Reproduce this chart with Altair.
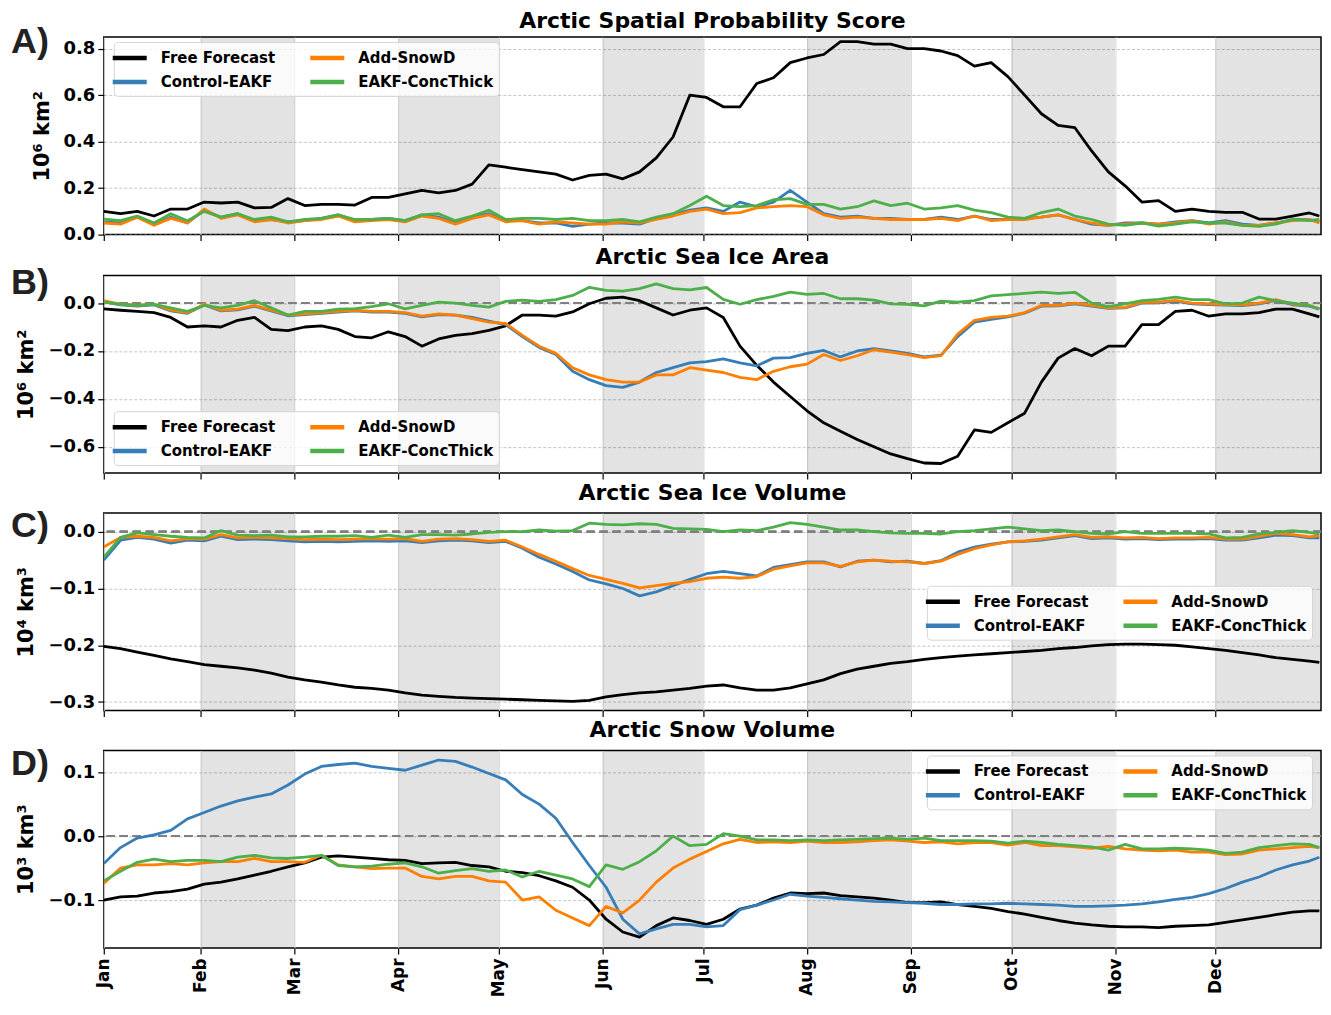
import altair as alt
import pandas as pd

# ---------------- data ----------------
DAYS = [3, 8, 13, 18, 23, 28, 33, 38, 43, 48, 53, 58, 63, 68, 73, 78, 83, 88, 93, 98,
        103, 108, 113, 118, 123, 128, 133, 138, 143, 148, 153, 158, 163, 168, 173, 178,
        183, 188, 193, 198, 203, 208, 213, 218, 223, 228, 233, 238, 243, 248, 253, 258,
        263, 268, 273, 278, 283, 288, 293, 298, 303, 308, 313, 318, 323, 328, 333, 338,
        343, 348, 353, 358, 363, 366]

MONTH_TICKS = [3, 32, 60, 91, 121, 152, 182, 213, 244, 274, 305, 335]
MONTH_LABELS = ["Jan", "Feb", "Mar", "Apr", "May", "Jun", "Jul", "Aug", "Sep", "Oct", "Nov", "Dec"]
SHADE_START = [32, 91, 152, 213, 274, 335]
SHADE_END = [60, 121, 182, 244, 305, 366.5]
X_DOMAIN = [3, 366.5]

# legend order (filled column by column: col 1 = first two, col 2 = last two)
SERIES = ["Free Forecast", "Control-EAKF", "Add-SnowD", "EAKF-ConcThick"]
COLORS = ["#000000", "#377eb8", "#ff7f00", "#4daf4a"]
DRAW_ORDER = ["Free Forecast", "Control-EAKF", "Add-SnowD", "EAKF-ConcThick"]

# Panel A: Arctic Spatial Probability Score
A_FREE = [0.10, 0.09, 0.10, 0.08, 0.11, 0.11, 0.14, 0.136, 0.14, 0.115, 0.117, 0.155, 0.125, 0.13,
          0.13, 0.127, 0.16, 0.16, 0.175, 0.19, 0.18, 0.19, 0.217, 0.30, 0.29, 0.28, 0.27, 0.26,
          0.235, 0.255, 0.26,
          0.24, 0.27, 0.33, 0.42, 0.60, 0.59, 0.55, 0.55, 0.65, 0.675, 0.74, 0.76, 0.775, 0.83,
          0.83, 0.82, 0.82, 0.80, 0.80, 0.79, 0.77, 0.725, 0.74, 0.68, 0.60, 0.52, 0.47, 0.46,
          0.36, 0.27, 0.21, 0.14, 0.146, 0.10, 0.11, 0.10, 0.096, 0.096, 0.067, 0.067, 0.08,
          0.093, 0.08]
A_CTRL = [0.055, 0.05, 0.075, 0.045, 0.075, 0.05, 0.105, 0.075, 0.09, 0.06, 0.065, 0.055, 0.06,
          0.07, 0.085, 0.06, 0.065, 0.07, 0.06, 0.085, 0.075, 0.05, 0.075, 0.09, 0.06, 0.06, 0.05,
          0.05, 0.035, 0.045, 0.05,
          0.05, 0.045, 0.07, 0.085, 0.105, 0.115, 0.10, 0.14, 0.12, 0.14, 0.19, 0.14, 0.09, 0.075,
          0.08, 0.07, 0.07, 0.065, 0.065, 0.075, 0.065, 0.08, 0.065, 0.065, 0.07, 0.075, 0.085,
          0.065, 0.045, 0.04, 0.05, 0.05, 0.045, 0.055, 0.06, 0.05, 0.06, 0.045, 0.04, 0.05,
          0.065, 0.065, 0.055]
A_SNOW = [0.05, 0.045, 0.075, 0.04, 0.07, 0.05, 0.11, 0.07, 0.085, 0.055, 0.065, 0.05, 0.06,
          0.065, 0.08, 0.055, 0.06, 0.065, 0.055, 0.08, 0.07, 0.045, 0.07, 0.085, 0.055, 0.06,
          0.045, 0.055, 0.05, 0.045, 0.045,
          0.055, 0.05, 0.065, 0.08, 0.10, 0.11, 0.09, 0.095, 0.115, 0.12, 0.125, 0.12, 0.085,
          0.07, 0.075, 0.07, 0.065, 0.065, 0.065, 0.07, 0.06, 0.08, 0.06, 0.065, 0.065, 0.075,
          0.085, 0.065, 0.05, 0.04, 0.045, 0.05, 0.045, 0.05, 0.06, 0.045, 0.055, 0.04, 0.04,
          0.05, 0.06, 0.065, 0.05]
A_CONC = [0.067, 0.06, 0.08, 0.05, 0.09, 0.06, 0.10, 0.075, 0.09, 0.065, 0.075, 0.055, 0.065,
          0.07, 0.085, 0.065, 0.065, 0.07, 0.06, 0.085, 0.09, 0.06, 0.08, 0.105, 0.065, 0.07,
          0.07, 0.065, 0.07, 0.06, 0.06,
          0.065, 0.055, 0.075, 0.09, 0.125, 0.165, 0.125, 0.12, 0.125, 0.15, 0.155, 0.13, 0.13,
          0.11, 0.12, 0.145, 0.125, 0.135, 0.11, 0.115, 0.125, 0.105, 0.095, 0.075, 0.07, 0.095,
          0.11, 0.08, 0.065, 0.045, 0.04, 0.05, 0.037, 0.045, 0.055, 0.05, 0.05, 0.04, 0.035,
          0.045, 0.065, 0.06, 0.065]

# Panel B: Arctic Sea Ice Area
B_FREE = [-0.024, -0.03, -0.035, -0.04, -0.06, -0.10, -0.095, -0.10, -0.072, -0.06, -0.11,
          -0.115, -0.10, -0.095, -0.11, -0.14, -0.145, -0.12, -0.14, -0.18, -0.15, -0.135,
          -0.128, -0.114, -0.095, -0.05, -0.05, -0.055, -0.037, -0.003, 0.02,
          0.025, 0.01, -0.02, -0.05, -0.03, -0.02, -0.06, -0.18, -0.26, -0.33, -0.39, -0.45,
          -0.50, -0.535, -0.57, -0.60, -0.63, -0.65, -0.668, -0.67, -0.64, -0.53, -0.54, -0.50,
          -0.46, -0.33, -0.23, -0.19, -0.22, -0.18, -0.18, -0.09, -0.09, -0.035, -0.03, -0.055,
          -0.045, -0.045, -0.04, -0.025, -0.025, -0.045, -0.058]
B_CTRL = [0.005, -0.008, -0.013, -0.008, -0.033, -0.043, -0.008, -0.033, -0.028, -0.013,
          -0.033, -0.053, -0.048, -0.043, -0.038, -0.033, -0.038, -0.038, -0.043, -0.058,
          -0.048, -0.05, -0.06, -0.075, -0.09, -0.14, -0.185, -0.215, -0.285, -0.32, -0.345,
          -0.352, -0.33, -0.29, -0.27, -0.25, -0.245, -0.233, -0.25, -0.262, -0.23, -0.228,
          -0.21, -0.198, -0.225, -0.2, -0.19, -0.2, -0.21, -0.225, -0.218, -0.14, -0.08,
          -0.068, -0.058, -0.042, -0.013, -0.012, -0.003, -0.013, -0.022, -0.02, 0.0, 0.001,
          0.008, -0.003, -0.006, -0.009, -0.011, -0.003, 0.011, -0.007, -0.013, -0.026]
B_SNOW = [0.01, -0.005, -0.01, -0.005, -0.03, -0.04, -0.005, -0.03, -0.025, -0.01, -0.03,
          -0.05, -0.045, -0.04, -0.035, -0.03, -0.035, -0.035, -0.04, -0.055, -0.045, -0.05,
          -0.065, -0.08, -0.085, -0.135, -0.18, -0.21, -0.27, -0.30, -0.32,
          -0.33, -0.33, -0.30, -0.30, -0.27, -0.28, -0.29, -0.31, -0.32, -0.285, -0.266,
          -0.255, -0.215, -0.24, -0.22, -0.195, -0.205, -0.215, -0.228, -0.22, -0.13, -0.072,
          -0.06, -0.055, -0.04, -0.01, -0.01, 0.0, -0.01, -0.02, -0.018, 0.003, 0.004, 0.011,
          0.0, -0.003, -0.006, -0.008, 0.0, 0.014, -0.004, -0.01, -0.024]
B_CONC = [0.004, -0.005, -0.01, -0.005, -0.02, -0.035, -0.01, -0.02, -0.01, 0.01, -0.02, -0.05,
          -0.035, -0.035, -0.025, -0.023, -0.015, -0.003, -0.024, -0.01, 0.004, 0.0, -0.01,
          -0.017, 0.007, 0.012, 0.007, 0.014, 0.032, 0.066, 0.053,
          0.05, 0.06, 0.08, 0.06, 0.055, 0.065, 0.015, -0.005, 0.014, 0.028, 0.046, 0.036,
          0.04, 0.018, 0.018, 0.012, -0.003, -0.005, -0.012, 0.008, 0.004, 0.01, 0.03, 0.035,
          0.04, 0.046, 0.04, 0.045, 0.0, -0.015, -0.003, 0.01, 0.015, 0.025, 0.014, 0.014,
          -0.003, 0.0, 0.025, 0.01, 0.0, -0.01, -0.024]

# Panel C: Arctic Sea Ice Volume
C_FREE = [-0.202, -0.206, -0.212, -0.218, -0.224, -0.229, -0.234, -0.237, -0.24, -0.244,
          -0.249, -0.256, -0.261, -0.265, -0.27, -0.274, -0.276, -0.279, -0.284, -0.288,
          -0.29, -0.292, -0.293, -0.294, -0.295, -0.296, -0.297, -0.298, -0.299, -0.297,
          -0.291,
          -0.287, -0.284, -0.282, -0.279, -0.276, -0.272, -0.27, -0.275, -0.279, -0.279,
          -0.275, -0.268, -0.261, -0.25, -0.242, -0.237, -0.232, -0.229, -0.225, -0.222,
          -0.219, -0.217, -0.215, -0.213, -0.211, -0.209, -0.206, -0.204, -0.201, -0.199,
          -0.198, -0.198, -0.199, -0.2, -0.203, -0.206, -0.209, -0.213, -0.217, -0.222,
          -0.225, -0.228, -0.23]
C_CTRL = [-0.05, -0.015, -0.01, -0.013, -0.02, -0.015, -0.016, -0.008, -0.014, -0.013, -0.014,
          -0.016, -0.018, -0.017, -0.018, -0.017, -0.016, -0.017, -0.016, -0.019, -0.016,
          -0.015, -0.016, -0.019, -0.017, -0.029, -0.045, -0.057, -0.07, -0.085, -0.092,
          -0.1, -0.113, -0.106, -0.095, -0.084, -0.074, -0.07, -0.074, -0.078, -0.063, -0.058,
          -0.053, -0.053, -0.062, -0.052, -0.05, -0.053, -0.052, -0.056, -0.051, -0.036,
          -0.027, -0.022, -0.018, -0.017, -0.015, -0.011, -0.007, -0.012, -0.011, -0.013,
          -0.012, -0.014, -0.013, -0.013, -0.012, -0.015, -0.015, -0.011, -0.006, -0.007,
          -0.011, -0.011]
C_SNOW = [-0.027, -0.01, -0.008, -0.01, -0.016, -0.012, -0.013, -0.005, -0.011, -0.01, -0.011,
          -0.012, -0.014, -0.013, -0.014, -0.013, -0.012, -0.013, -0.012, -0.017, -0.013,
          -0.012, -0.014, -0.017, -0.015, -0.027, -0.04, -0.052, -0.065, -0.077, -0.084,
          -0.091, -0.099, -0.095, -0.091, -0.088, -0.082, -0.08, -0.082, -0.079, -0.066,
          -0.06, -0.055, -0.055, -0.061, -0.053, -0.05, -0.052, -0.053, -0.056, -0.052, -0.04,
          -0.03, -0.023, -0.018, -0.016, -0.013, -0.009, -0.005, -0.01, -0.009, -0.011, -0.01,
          -0.012, -0.011, -0.011, -0.01, -0.013, -0.013, -0.008, -0.003, -0.005, -0.009,
          -0.007]
C_CONC = [-0.045, -0.01, -0.002, -0.005, -0.008, -0.01, -0.011, 0.002, -0.006, -0.007, -0.006,
          -0.009, -0.009, -0.008, -0.008, -0.007, -0.01, -0.006, -0.01, -0.005, -0.005, -0.006,
          -0.004, -0.001, 0.0, 0.0, 0.003, 0.001, 0.002, 0.015, 0.013,
          0.012, 0.014, 0.013, 0.006, 0.005, 0.004, 0.0, 0.003, 0.002, 0.008, 0.016, 0.013,
          0.008, 0.003, 0.003, 0.0, -0.002, -0.003, -0.003, -0.004, 0.0, 0.002, 0.005, 0.008,
          0.005, 0.002, 0.003, 0.0, -0.003, -0.004, 0.0, -0.003, -0.003, -0.003, -0.003,
          -0.004, -0.011, -0.01, -0.004, -0.001, 0.002, -0.001, -0.004]

# Panel D: Arctic Snow Volume
D_FREE = [-0.1, -0.095, -0.094, -0.089, -0.087, -0.083, -0.075, -0.072, -0.067, -0.061, -0.055,
          -0.048, -0.042, -0.033, -0.031, -0.033, -0.035, -0.037, -0.038, -0.043, -0.042,
          -0.041, -0.046, -0.048, -0.055, -0.057, -0.062, -0.07, -0.08, -0.1, -0.13,
          -0.15, -0.158, -0.14, -0.128, -0.132, -0.138, -0.13, -0.114, -0.108, -0.097, -0.089,
          -0.09, -0.089, -0.093, -0.095, -0.097, -0.1, -0.104, -0.104, -0.103, -0.107, -0.11,
          -0.113, -0.118, -0.122, -0.127, -0.132, -0.136, -0.139, -0.141, -0.142, -0.142,
          -0.143, -0.141, -0.14, -0.139, -0.135, -0.131, -0.127, -0.123, -0.119, -0.117,
          -0.117]
D_CTRL = [-0.043, -0.018, -0.003, 0.002, 0.009, 0.027, 0.037, 0.047, 0.055, 0.061, 0.066, 0.08,
          0.097, 0.109, 0.112, 0.114, 0.109, 0.106, 0.103, 0.111, 0.119, 0.117, 0.108, 0.098,
          0.088, 0.065, 0.05, 0.028, -0.01, -0.046, -0.08,
          -0.13, -0.153, -0.145, -0.138, -0.138, -0.142, -0.14, -0.115, -0.108, -0.1, -0.091,
          -0.094, -0.096, -0.098, -0.1, -0.102, -0.103, -0.104, -0.105, -0.107, -0.107, -0.106,
          -0.106, -0.105, -0.106, -0.107, -0.108, -0.11, -0.11, -0.109, -0.108, -0.106,
          -0.103, -0.099, -0.096, -0.09, -0.082, -0.072, -0.064, -0.053, -0.045, -0.039,
          -0.033]
D_SNOW = [-0.074, -0.05, -0.045, -0.045, -0.043, -0.045, -0.042, -0.04, -0.04, -0.035, -0.04,
          -0.04, -0.041, -0.03, -0.045, -0.048, -0.051, -0.05, -0.05, -0.063, -0.067, -0.063,
          -0.063, -0.07, -0.072, -0.1, -0.095, -0.116, -0.128, -0.14, -0.11,
          -0.12, -0.1, -0.072, -0.05, -0.036, -0.024, -0.012, -0.005, -0.01, -0.009, -0.01,
          -0.008, -0.01, -0.01, -0.009, -0.007, -0.006, -0.008, -0.01, -0.009, -0.012, -0.01,
          -0.01, -0.014, -0.01, -0.015, -0.015, -0.017, -0.019, -0.016, -0.02, -0.022, -0.023,
          -0.022, -0.025, -0.025, -0.029, -0.028, -0.022, -0.02, -0.018, -0.016, -0.018]
D_CONC = [-0.07, -0.055, -0.041, -0.036, -0.04, -0.038, -0.038, -0.04, -0.033, -0.03, -0.034,
          -0.035, -0.033, -0.03, -0.046, -0.048, -0.047, -0.044, -0.042, -0.048, -0.058,
          -0.054, -0.051, -0.055, -0.053, -0.064, -0.055, -0.061, -0.067, -0.079, -0.045,
          -0.052, -0.04, -0.023, 0.0, -0.015, -0.013, 0.004, 0.0, -0.006, -0.006, -0.007,
          -0.006, -0.007, -0.006, -0.005, -0.004, -0.003, -0.005, -0.003, -0.007, -0.007,
          -0.007, -0.008, -0.011, -0.008, -0.01, -0.013, -0.015, -0.017, -0.022, -0.013, -0.02,
          -0.02, -0.019, -0.02, -0.022, -0.027, -0.025, -0.018, -0.015, -0.012, -0.013, -0.018]

# ---------------- styling ----------------
FONT = "DejaVu Sans"
LETTER_FONT = "Liberation Sans"
W, H = 1220, 198

label_expr = ("[" + ",".join("'%s'" % m for m in MONTH_LABELS) + "][indexof(["
              + ",".join(str(t) for t in MONTH_TICKS) + "], datum.value)]")

bands_df = pd.DataFrame({"start": SHADE_START, "end": SHADE_END})


def make_panel(letter, letter_y, title, title_offset, ytitle, ydomain, yticks, values,
               legend_xy, zero_line, bottom):
    rows = []
    for name in SERIES:
        for d, v in zip(DAYS, values[name]):
            rows.append({"day": d, "value": v, "series": name})
    df = pd.DataFrame(rows)

    xscale = alt.Scale(domain=X_DOMAIN, nice=False, zero=False)
    yscale = alt.Scale(domain=ydomain, nice=False, zero=False)
    xaxis = alt.Axis(values=MONTH_TICKS, labelExpr=label_expr, labels=bottom,
                     labelAngle=270, labelFontSize=17, labelFontWeight="bold",
                     labelFont=FONT, labelColor="black", labelPadding=4,
                     labelFlush=False, labelOverlap=False,
                     tickSize=6, tickWidth=1.2, tickColor="black", domain=False,
                     grid=True, gridColor="#d9d9d9", gridWidth=1, title=None)
    yaxis = alt.Axis(values=yticks, format=".1f", labelFontSize=18, labelFontWeight="bold",
                     labelFont=FONT, labelColor="black", labelPadding=3,
                     tickSize=6, tickWidth=1.2, tickColor="black", domain=False,
                     grid=True, gridColor="#b5b5b5", gridWidth=0.8, gridDash=[3, 2],
                     title=ytitle, titleFontSize=21, titleFontWeight="bold",
                     titleFont=FONT, titleColor="black", titlePadding=11)

    legend = alt.Legend(orient="none", legendX=legend_xy[0], legendY=legend_xy[1],
                        columns=2, title=None, symbolType="M-2,0H2", symbolSize=290,
                        symbolStrokeWidth=4.5, labelFontSize=15, labelFontWeight="bold",
                        labelFont=FONT, labelColor="black", labelOffset=20,
                        fillColor="rgba(255,255,255,0.8)", strokeColor="#d5d5d5",
                        padding=5, cornerRadius=4, columnPadding=25, rowPadding=4,
                        labelLimit=0)
    cscale = alt.Scale(domain=SERIES, range=COLORS)

    bands = alt.Chart(bands_df).mark_rect(color="black", opacity=0.11).encode(
        x=alt.X("start:Q", scale=xscale, axis=xaxis), x2="end:Q")

    layers = [bands]
    if zero_line:
        layers.append(alt.Chart(bands_df).mark_rule(
            color="#808080", strokeDash=[8, 5], strokeWidth=2).encode(
            y=alt.datum(0, scale=yscale)))

    for name in DRAW_ORDER:
        layers.append(
            alt.Chart(df).transform_filter(alt.datum.series == name)
            .mark_line(strokeWidth=2.8, clip=True, strokeJoin="round")
            .encode(x=alt.X("day:Q", scale=xscale, axis=xaxis),
                    y=alt.Y("value:Q", scale=yscale, axis=yaxis),
                    color=alt.Color("series:N", scale=cscale, legend=legend)))

    layers.append(
        alt.Chart(pd.DataFrame({"letter": [letter]})).mark_text(
            align="left", baseline="alphabetic", fontSize=36, fontWeight="bold",
            font=LETTER_FONT, color="#222222").encode(
            x=alt.value(-93), y=alt.value(letter_y), text="letter:N"))

    return alt.layer(*layers).properties(
        width=W, height=H,
        title=alt.TitleParams(title, fontSize=22, fontWeight="bold", font=FONT,
                              color="black", anchor="middle", offset=title_offset))


pA = make_panel("A)", 16, "Arctic Spatial Probability Score", -9, "10\u2076 km\u00b2",
                [0, 0.85], [0.0, 0.2, 0.4, 0.6, 0.8],
                {"Free Forecast": A_FREE, "Control-EAKF": A_CTRL, "Add-SnowD": A_SNOW,
                 "EAKF-ConcThick": A_CONC}, (10, 5), False, False)
pB = make_panel("B)", 19, "Arctic Sea Ice Area", -3, "10\u2076 km\u00b2",
                [-0.71, 0.115], [-0.6, -0.4, -0.2, 0.0],
                {"Free Forecast": B_FREE, "Control-EAKF": B_CTRL, "Add-SnowD": B_SNOW,
                 "EAKF-ConcThick": B_CONC}, (10, 136), True, False)
pC = make_panel("C)", 24, "Arctic Sea Ice Volume", 3, "10\u2074 km\u00b3",
                [-0.315, 0.033], [-0.3, -0.2, -0.1, 0.0],
                {"Free Forecast": C_FREE, "Control-EAKF": C_CTRL, "Add-SnowD": C_SNOW,
                 "EAKF-ConcThick": C_CONC}, (825, 73), True, False)
pD = make_panel("D)", 25, "Arctic Snow Volume", 4, "10\u00b3 km\u00b3",
                [-0.175, 0.134], [-0.1, 0.0, 0.1],
                {"Free Forecast": D_FREE, "Control-EAKF": D_CTRL, "Add-SnowD": D_SNOW,
                 "EAKF-ConcThick": D_CONC}, (825, 5), True, True)

chart = (alt.vconcat(pA, pB, pC, pD, spacing=0)
         .resolve_scale(x="independent", y="independent", color="independent")
         .resolve_legend(color="independent")
         .properties(padding={"left": 2, "top": 0, "right": 0, "bottom": 0})
         .configure(font=FONT)
         .configure_view(stroke="black", strokeWidth=1.5))

chart.save("out.html", embed_options={"renderer": "svg", "actions": False})
